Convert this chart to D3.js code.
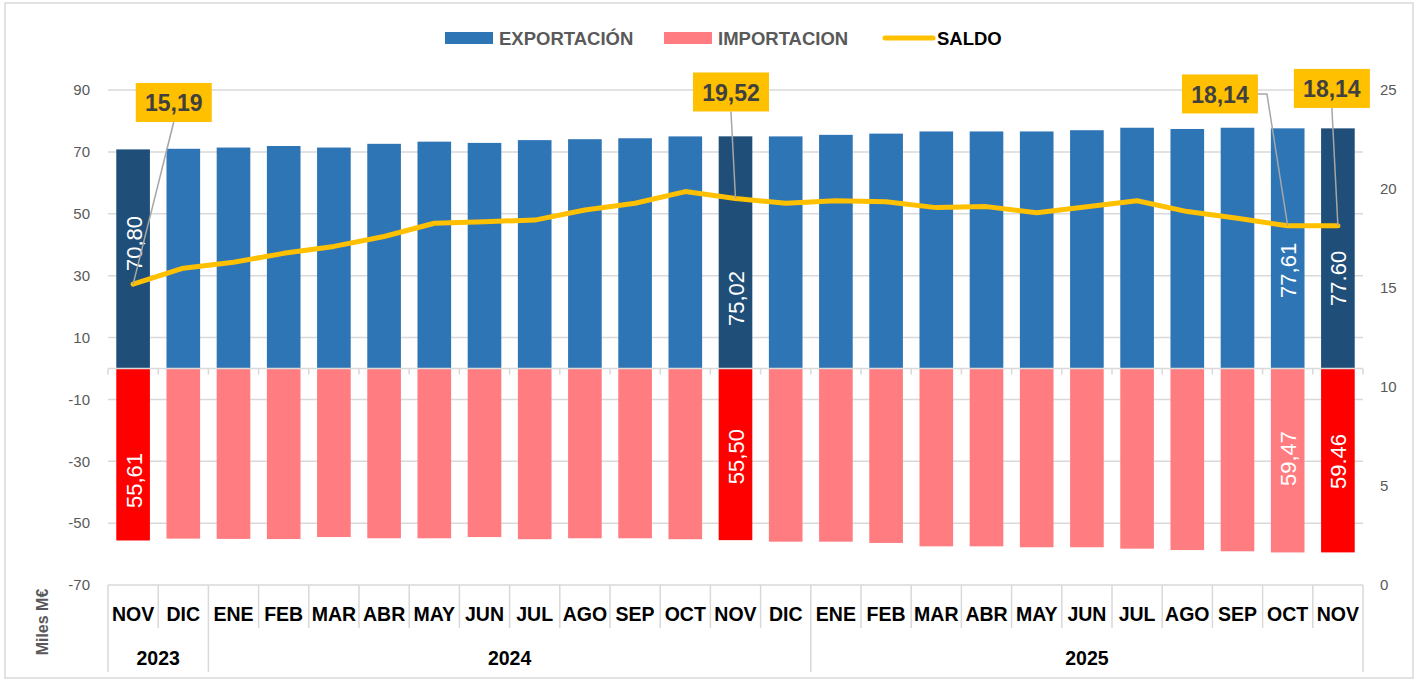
<!DOCTYPE html>
<html>
<head>
<meta charset="utf-8">
<script src="https://cdn.jsdelivr.net/npm/d3@7"></script>
<style>
  html, body { margin: 0; padding: 0; background: #ffffff; }
  svg { display: block; font-family: "Liberation Sans", Arial, sans-serif; }
</style>
</head>
<body>
<svg id="chart" width="1421" height="681"></svg>
<script>
// ---------------- DATA ----------------
const months = ["NOV","DIC","ENE","FEB","MAR","ABR","MAY","JUN","JUL","AGO","SEP","OCT",
                "NOV","DIC","ENE","FEB","MAR","ABR","MAY","JUN","JUL","AGO","SEP","OCT","NOV"];
const years = ["2023","2024","2025"];
const yearSpans = [2, 12, 11];
const exportaciones = [70.80,71.0,71.4,71.9,71.4,72.6,73.3,72.9,73.8,74.1,74.4,75.0,
                       75.02,75.0,75.5,75.9,76.6,76.6,76.6,77.0,77.8,77.4,77.8,77.61,77.60];
const importaciones = [55.61,55.0,55.1,55.15,54.5,54.9,54.9,54.5,55.2,54.9,54.9,55.2,
                       55.50,56.0,56.0,56.4,57.5,57.5,57.8,57.8,58.25,58.7,59.1,59.47,59.46];
const saldo = [15.19,16.0,16.3,16.75,17.1,17.6,18.27,18.35,18.43,18.94,19.28,19.87,
               19.52,19.28,19.41,19.36,19.06,19.11,18.8,19.1,19.41,18.86,18.52,18.14,18.14];
const highlighted = [0, 12, 24];
const leftTicks = [-70,-50,-30,-10,10,30,50,70,90];
const rightTicks = [0,5,10,15,20,25];
const legendLabels = ["EXPORTACIÓN","IMPORTACION","SALDO"];

// labels inside bars: index, text, anchor value (left axis units)
const exportLabels = [
  {i:0, text:"70,80", at:40.4},
  {i:12, text:"75,02", at:22.6},
  {i:23, text:"77,61", at:31.7},
  {i:24, text:"77.60", at:29.1}
];
const importLabels = [
  {i:0, text:"55,61", at:-36.2},
  {i:12, text:"55,50", at:-28.5},
  {i:23, text:"59,47", at:-29.1},
  {i:24, text:"59.46", at:-30.1}
];
// saldo callouts: index, text, box offset in bands, box centre (right axis units), elbow leader
const saldoCallouts = [
  {i:0, text:"15,19", dx:0.81, at:24.37, elbow:false},
  {i:12, text:"19,52", dx:-0.09, at:24.9, elbow:false},
  {i:23, text:"18,14", dx:-1.35, at:24.8, elbow:true},
  {i:24, text:"18,14", dx:-0.12, at:25.08, elbow:false}
];

// ---------------- STYLE / LAYOUT ----------------
const C = {
  exp:"#2E75B6", expHi:"#1F4E79",
  imp:"#FF7C80", impHi:"#FF0000",
  line:"#FFC000", grid:"#D9D9D9", axisText:"#595959"
};
const plot = {left:108, right:1363, top:90, bottom:585};

const svg = d3.select("#chart");

// frame
svg.append("rect").attr("x",5).attr("y",3).attr("width",1408).attr("height",675)
  .attr("fill","#fff").attr("stroke","#D9D9D9").attr("stroke-width",1.5);

const x = d3.scaleBand().domain(d3.range(months.length))
  .range([plot.left, plot.right]).paddingInner(0.33).paddingOuter(0.165);
const yL = d3.scaleLinear().domain([-70, 90]).range([plot.bottom, plot.top]);
const yR = d3.scaleLinear().domain([0, 25]).range([plot.bottom, plot.top]);
const step = x.step();
const cx = i => x(i) + x.bandwidth()/2;

// gridlines
svg.append("g").selectAll("line").data(leftTicks).join("line")
  .attr("x1", plot.left).attr("x2", plot.right)
  .attr("y1", d => yL(d)).attr("y2", d => yL(d))
  .attr("stroke", C.grid).attr("stroke-width", 1.5);

// left axis labels
const axL = svg.append("g").attr("transform", `translate(${plot.left - 18},0)`)
  .call(d3.axisLeft(yL).tickValues(leftTicks).tickSize(0).tickPadding(0)
        .tickFormat(d => String(d)));
axL.select(".domain").remove();
axL.selectAll("text").attr("fill", C.axisText).style("font-size","15px");

// right axis labels
const axR = svg.append("g").attr("transform", `translate(${plot.right + 17},0)`)
  .call(d3.axisRight(yR).tickValues(rightTicks).tickSize(0).tickPadding(0)
        .tickFormat(d => String(d)));
axR.select(".domain").remove();
axR.selectAll("text").attr("fill", C.axisText).style("font-size","15px");

// bars
svg.append("g").selectAll("rect").data(exportaciones).join("rect")
  .attr("x", (d,i) => x(i)).attr("width", x.bandwidth())
  .attr("y", d => yL(d)).attr("height", d => yL(0) - yL(d))
  .attr("fill", (d,i) => highlighted.includes(i) ? C.expHi : C.exp);
svg.append("g").selectAll("rect").data(importaciones).join("rect")
  .attr("x", (d,i) => x(i)).attr("width", x.bandwidth())
  .attr("y", yL(0)).attr("height", d => yL(-d) - yL(0))
  .attr("fill", (d,i) => highlighted.includes(i) ? C.impHi : C.imp);

// zero axis with ticks
const zero = svg.append("g");
zero.append("line").attr("x1", plot.left).attr("x2", plot.right)
  .attr("y1", yL(0)).attr("y2", yL(0)).attr("stroke", C.grid).attr("stroke-width", 1.5);
zero.selectAll("line.t").data(d3.range(months.length + 1)).join("line").attr("class","t")
  .attr("x1", k => plot.left + k*step).attr("x2", k => plot.left + k*step)
  .attr("y1", yL(0)).attr("y2", yL(0) + 6).attr("stroke", C.grid).attr("stroke-width", 1.5);

// category (multi-level) axis
const cat = svg.append("g");
const yearBounds = [0];
yearSpans.forEach(s => yearBounds.push(yearBounds[yearBounds.length-1] + s));
cat.selectAll("line.m").data(d3.range(months.length + 1)).join("line").attr("class","m")
  .attr("x1", k => plot.left + k*step).attr("x2", k => plot.left + k*step)
  .attr("y1", plot.bottom).attr("y2", k => yearBounds.includes(k) ? 672 : 628)
  .attr("stroke", C.grid).attr("stroke-width", 1.5);
cat.selectAll("text.m").data(months).join("text").attr("class","m")
  .attr("x", (d,i) => cx(i)).attr("y", 614).attr("text-anchor","middle")
  .attr("dominant-baseline","central")
  .style("font-size","19.5px").style("font-weight","bold").attr("fill","#000")
  .text(d => d);
cat.selectAll("text.y").data(years).join("text").attr("class","y")
  .attr("x", (d,k) => plot.left + (yearBounds[k] + yearBounds[k+1]) / 2 * step)
  .attr("y", 658).attr("text-anchor","middle").attr("dominant-baseline","central")
  .style("font-size","19.5px").style("font-weight","bold").attr("fill","#000")
  .text(d => d);

// axis title
svg.append("text").attr("transform","translate(42,622) rotate(-90)")
  .attr("text-anchor","middle").attr("dominant-baseline","central")
  .style("font-size","16px").style("font-weight","bold").attr("fill", C.axisText)
  .text("Miles M€");

// saldo line
const line = d3.line().x((d,i) => cx(i)).y(d => yR(d));
svg.append("path").datum(saldo).attr("d", line)
  .attr("fill","none").attr("stroke", C.line).attr("stroke-width", 5)
  .attr("stroke-linejoin","round").attr("stroke-linecap","round");

// bar value labels (rotated)
const valLabel = (arr) => svg.append("g").selectAll("text").data(arr).join("text")
  .attr("transform", d => `translate(${cx(d.i) + 1},${yL(d.at)}) rotate(-90)`)
  .attr("text-anchor","middle").attr("dominant-baseline","central")
  .style("font-size","22px").attr("fill","#fff")
  .text(d => d.text);
valLabel(exportLabels);
valLabel(importLabels);

// saldo callouts
const bw = 76, bh = 39;
const co = svg.append("g");
saldoCallouts.forEach(d => {
  const bx = cx(d.i) + d.dx * step, by = yR(d.at);
  const px = cx(d.i), py = yR(saldo[d.i]);
  let pts;
  if (d.elbow) {
    pts = [[bx + bw/2, by], [bx + bw/2 + 9, by], [px, py]];
  } else {
    pts = [[bx, by + bh/2], [px, py]];
  }
  co.append("path").attr("d", d3.line()(pts)).attr("fill","none")
    .attr("stroke","#A6A6A6").attr("stroke-width",1.5);
  co.append("rect").attr("x", bx - bw/2).attr("y", by - bh/2)
    .attr("width", bw).attr("height", bh).attr("fill", C.line);
  co.append("text").attr("x", bx).attr("y", by + 1).attr("text-anchor","middle")
    .attr("dominant-baseline","central").style("font-size","23px").style("font-weight","bold")
    .attr("fill","#404040").text(d.text);
});

// legend
const lg = svg.append("g");
const legendItems = [
  {x:445, type:"rect", color:C.exp, textColor:C.axisText},
  {x:664, type:"rect", color:C.imp, textColor:C.axisText},
  {x:883, type:"line", color:C.line, textColor:"#000"}
];
legendItems.forEach((it, k) => {
  if (it.type === "rect") {
    lg.append("rect").attr("x", it.x).attr("y", 32).attr("width", 48).attr("height", 12).attr("fill", it.color);
  } else {
    lg.append("line").attr("x1", it.x + 2).attr("x2", it.x + 50).attr("y1", 38).attr("y2", 38)
      .attr("stroke", it.color).attr("stroke-width", 5).attr("stroke-linecap","round");
  }
  lg.append("text").attr("x", it.x + 54).attr("y", 38).attr("dominant-baseline","central")
    .style("font-size","18.5px").style("font-weight","bold").attr("fill", it.textColor)
    .text(legendLabels[k]);
});
</script>
</body>
</html>
